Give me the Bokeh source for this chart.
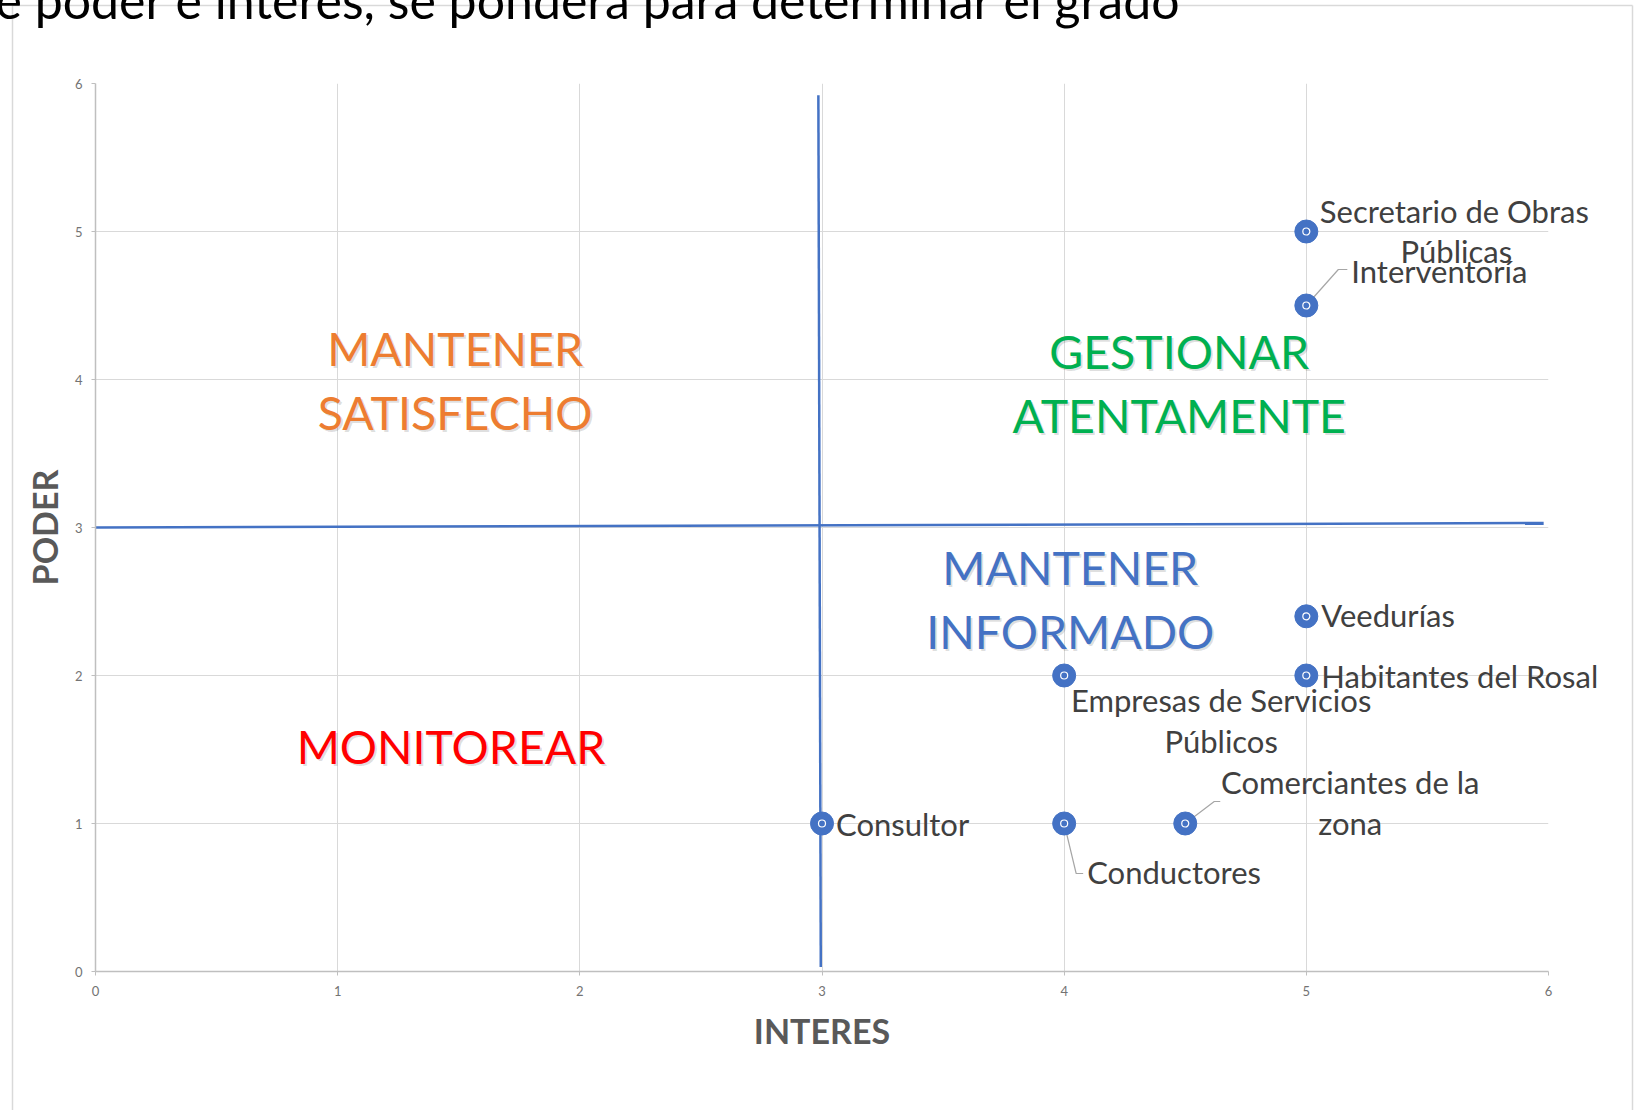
from bokeh.plotting import figure
from bokeh.models import Range1d, FixedTicker, ColumnDataSource
from bokeh.core.properties import value
from bokeh.embed import file_html
from bokeh.resources import INLINE

# ---------------- data ----------------
stakeholders = [
    "Secretario de Obras Públicas",
    "Interventoría",
    "Veedurías",
    "Habitantes del Rosal",
    "Empresas de Servicios Públicos",
    "Consultor",
    "Conductores",
    "Comerciantes de la zona",
]
interes = [5, 5, 5, 5, 4, 3, 4, 4.5]
poder = [5, 4.5, 2.4, 2, 2, 1, 1, 1]

x_ticks = [0, 1, 2, 3, 4, 5, 6]
y_ticks = [0, 1, 2, 3, 4, 5, 6]

# quadrant divider lines (hand-drawn shapes on the slide)
div_x0 = [0.0, 2.985]
div_y0 = [3.0, 5.92]
div_x1 = [5.98, 2.995]
div_y1 = [3.03, 0.03]

quad_lines = [["MANTENER", "SATISFECHO"], ["GESTIONAR", "ATENTAMENTE"],
              ["MANTENER", "INFORMADO"], ["MONITOREAR"]]
quad_x = [1.485, 4.475, 4.025, 1.468]
quad_y = [4.0, 3.975, 2.52, 1.525]
quad_colors = ["#ED7D31", "#00B050", "#4472C4", "#FF0000"]

slide_text = "e poder e interés, se pondera para determinar el grado"

# ---------------- layout / style ----------------
FONT = "Lato"
W, H = 1636, 1110
ML, MT = 95, 83
FW, FH = 1453, 888
MR, MB = W - ML - FW, H - MT - FH
PX = FW / 6.0   # px per x unit
PY = FH / 6.0   # px per y unit


def px2x(px):
    return (px - ML) / PX


def py2y(py):
    return 6 - (py - MT) / PY


# how many words go on the first line of each wrapped label, offsets (px) of each line
wrap_first = {"Secretario de Obras Públicas": 3, "Empresas de Servicios Públicos": 3,
              "Comerciantes de la zona": 3}
label_layout = {
    "Secretario de Obras Públicas": ("center", [(148, -21), (150, 19)]),
    "Interventoría": ("left", [(45, -35)]),
    "Veedurías": ("left", [(15, -1)]),
    "Habitantes del Rosal": ("left", [(15, 0)]),
    "Empresas de Servicios Públicos": ("center", [(157, 24), (157, 65)]),
    "Consultor": ("left", [(14, 0)]),
    "Conductores": ("left", [(23, 48)]),
    "Comerciantes de la zona": ("center", [(165, -42), (165, -1)]),
}
leaders = {
    "Interventoría": [(0, 0), (32, -36), (41, -36)],
    "Conductores": [(0, 0), (12, 50), (19, 50)],
    "Comerciantes de la zona": [(0, 0), (29, -22), (35, -22)],
}

p = figure(width=W, height=H, x_range=Range1d(0, 6), y_range=Range1d(0, 6),
           output_backend="svg", toolbar_location=None,
           min_border_left=ML, min_border_right=MR, min_border_top=MT, min_border_bottom=MB,
           x_axis_label="INTERES", y_axis_label="PODER")
p.outline_line_color = None
p.background_fill_color = "white"
p.border_fill_color = "white"

for ax in (p.xaxis[0], p.yaxis[0]):
    ax.axis_line_color = "#bfbfbf"
    ax.axis_line_width = 1.5
    ax.major_tick_line_color = "#bfbfbf"
    ax.major_tick_out = 4
    ax.major_tick_in = 0
    ax.minor_tick_line_color = None
    ax.major_label_text_font = FONT
    ax.major_label_text_font_size = "13px"
    ax.major_label_text_color = "#737373"
    ax.major_label_standoff = 8
    ax.axis_label_text_font = FONT
    ax.axis_label_text_font_size = "34px"
    ax.axis_label_text_font_style = "bold"
    ax.axis_label_text_color = "#595959"
p.xaxis[0].ticker = FixedTicker(ticks=x_ticks)
p.yaxis[0].ticker = FixedTicker(ticks=y_ticks)
p.xaxis[0].major_label_standoff = 10
p.yaxis[0].major_label_standoff = 9
p.xaxis[0].axis_label_standoff = 11
p.yaxis[0].axis_label_standoff = 7

p.xgrid[0].ticker = FixedTicker(ticks=x_ticks)
p.ygrid[0].ticker = FixedTicker(ticks=y_ticks)
for g in (p.xgrid[0], p.ygrid[0]):
    g.grid_line_color = "#d9d9d9"
    g.grid_line_width = 1

# chart container border (slide object outline)
bx = [px2x(12), px2x(12), px2x(1632)]
by = [py2y(5), py2y(5), py2y(5)]
bx1 = [px2x(12), px2x(1632), px2x(1632)]
by1 = [py2y(1300), py2y(5), py2y(1300)]
p.segment(x0=bx, y0=by, x1=bx1, y1=by1, line_color="#d9d9d9", line_width=1.5, level="overlay")

# slide title fragment, cut off by the top edge
p.text(x=[px2x(-5)], y=[py2y(-1)], text=[slide_text], text_font=value(FONT),
       text_font_size="50px", text_color="black", text_baseline="alphabetic",
       text_align="left", level="overlay")

# quadrant dividers
p.segment(x0=div_x0, y0=div_y0, x1=div_x1, y1=div_y1, line_color="#4472C4", line_width=2.5)

# quadrant titles (with soft shadow)
qx, qy, qt, qc, qdy = [], [], [], [], []
for lines, x, y, c in zip(quad_lines, quad_x, quad_y, quad_colors):
    n = len(lines)
    for i, t in enumerate(lines):
        qx.append(x)
        qy.append(y)
        qt.append(t)
        qc.append(c)
        qdy.append((i - (n - 1) / 2.0) * 64)
qsrc = ColumnDataSource(dict(x=qx, y=qy, text=qt, color=qc, dy=qdy,
                             dy2=[d + 2 for d in qdy]))
p.text(x="x", y="y", text="text", source=qsrc, x_offset=2, y_offset="dy2",
       text_color="black", text_alpha=0.13, text_font=value(FONT), text_font_size="46.5px",
       text_align="center", text_baseline="middle")
p.text(x="x", y="y", text="text", source=qsrc, y_offset="dy",
       text_color="color", text_font=value(FONT), text_font_size="46.5px",
       text_align="center", text_baseline="middle")

# leader lines
lxs, lys = [], []
for name, x, y in zip(stakeholders, interes, poder):
    if name in leaders:
        lxs.append([x + dx / PX for dx, dy in leaders[name]])
        lys.append([y - dy / PY for dx, dy in leaders[name]])
p.multi_line(xs=lxs, ys=lys, line_color="#a6a6a6", line_width=1.2)

# markers
p.scatter(x=interes, y=poder, size=23, fill_color="#4472C4", line_color="#4472C4")
p.scatter(x=interes, y=poder, size=7, fill_color=None, line_color="white", line_width=1.2)

# data labels
tx, ty, tt, tdx, tdy, ta = [], [], [], [], [], []
for name, x, y in zip(stakeholders, interes, poder):
    words = name.split(" ")
    k = wrap_first.get(name, len(words))
    lines = [" ".join(words[:k])]
    if k < len(words):
        lines.append(" ".join(words[k:]))
    align, offs = label_layout[name]
    for t, (dx, dy) in zip(lines, offs):
        tx.append(x); ty.append(y); tt.append(t); tdx.append(dx); tdy.append(dy); ta.append(align)
lsrc = ColumnDataSource(dict(x=tx, y=ty, text=tt, dx=tdx, dy=tdy, align=ta))
p.text(x="x", y="y", text="text", source=lsrc, x_offset="dx", y_offset="dy",
       text_align="align", text_baseline="middle", text_color="#404040",
       text_font=value(FONT), text_font_size="31px", level="overlay")

open("out.html", "w").write(file_html(p, INLINE))
